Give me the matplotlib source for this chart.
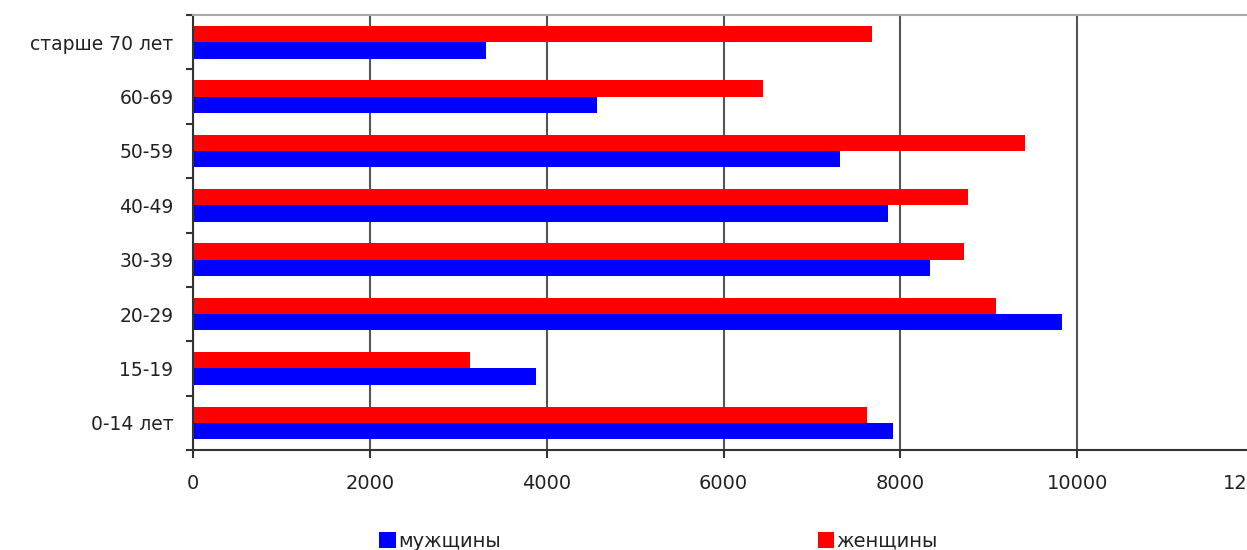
import matplotlib.pyplot as plt
import numpy as np

categories = ['0-14 лет', '15-19', '20-29', '30-39', '40-49', '50-59', '60-69', 'старше 70 лет']
men = [7920, 3880, 9830, 8340, 7860, 7320, 4570, 3310]
women = [7620, 3130, 9080, 8720, 8760, 9410, 6450, 7680]
x_ticks = [0, 2000, 4000, 6000, 8000, 10000, 12000]

plt.rcParams['font.family'] = 'DejaVu Sans'
fig = plt.figure(figsize=(12.47, 5.5), dpi=100)
ax = fig.add_axes([193 / 1247, 100 / 550, (1254 - 193) / 1247, 435 / 550])

y = np.arange(len(categories))
h = 0.3
b_men = ax.barh(y - h / 2, men, height=h, color='#0000ff', label='мужщины')
b_women = ax.barh(y + h / 2, women, height=h, color='#ff0000', label='женщины')

ax.set_xlim(0, 12000)
ax.set_ylim(-0.5, len(categories) - 0.5)
ax.set_xticks(x_ticks)
ax.set_xticklabels([str(v) for v in x_ticks], fontsize=14, color='#222222')
ax.set_yticks(np.arange(-0.5, len(categories), 1.0))
ax.set_yticklabels([])
ax.set_yticks(y, minor=True)
ax.set_yticklabels(categories, minor=True, fontsize=13.5, color='#222222')
ax.tick_params(axis='y', which='minor', length=0, pad=14)
ax.tick_params(axis='y', which='major', length=5, width=1.5, color='#333333', direction='out')
ax.tick_params(axis='x', length=6, width=1.5, color='#333333', pad=11)

ax.grid(axis='x', color='#555555', linewidth=1.5)
ax.set_axisbelow(True)
ax.spines['left'].set_color('#333333')
ax.spines['left'].set_linewidth(1.5)
ax.spines['bottom'].set_color('#333333')
ax.spines['bottom'].set_linewidth(1.5)
ax.spines['top'].set_color('#a8a8a8')
ax.spines['top'].set_linewidth(1.5)
ax.spines['right'].set_visible(False)

fig.legend(handles=[b_men, b_women], loc='center', bbox_to_anchor=(0.528, 0.016),
           ncol=2, frameon=False, fontsize=14, handlelength=0.85, handleheight=0.85,
           handletextpad=0.1, columnspacing=16.3, borderpad=0, labelcolor='#222222')

plt.savefig('out.png', dpi=100)
plt.close()
